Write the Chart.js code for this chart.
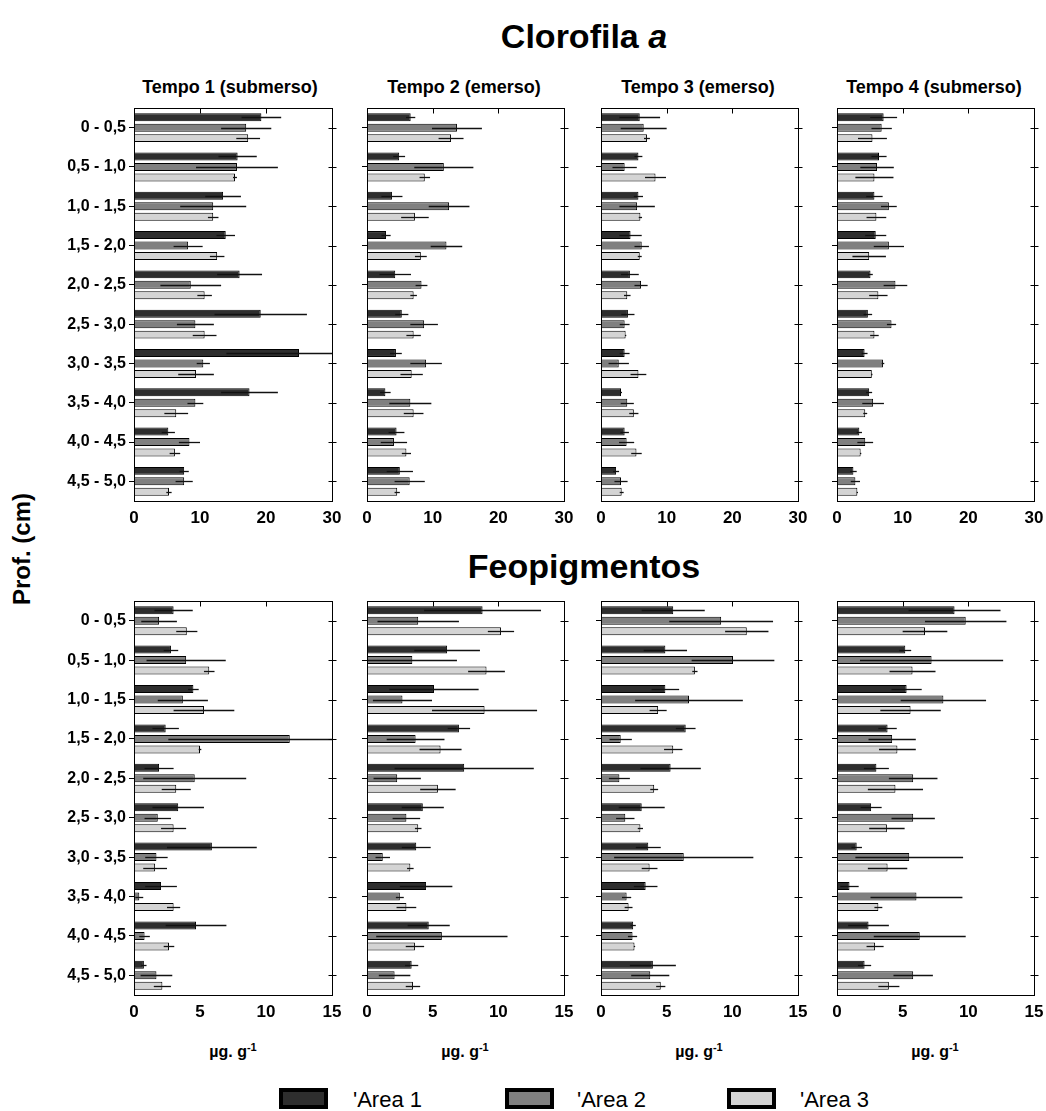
<!DOCTYPE html>
<html>
<head>
<meta charset="utf-8">
<title>Clorofila a e Feopigmentos</title>
<script src="https://cdn.jsdelivr.net/npm/chart.js@4.4.1/dist/chart.umd.min.js"></script>
<style>
    body {
        margin: 0;
        width: 1046px;
        height: 1111px;
        position: relative;
        overflow: hidden;
        background: #fff;
        font-family: 'Liberation Sans', Arial, sans-serif;
        color: #000;
    }
    .lbl {
        position: absolute;
        transform: translate(-50%, -50%);
        white-space: nowrap;
        font-weight: bold;
    }
    .panel {
        position: absolute;
    }
    .leg-box {
        position: absolute;
        width: 49px;
        height: 21px;
        border: 4px solid #000;
        box-sizing: border-box;
    }
    .leg-text {
        position: absolute;
        font-size: 22px;
        transform: translateY(-50%);
        white-space: nowrap;
    }
</style>
</head>
<body>

<div class="lbl" style="left:584px; top:36px; font-size:34px;">Clorofila <i>a</i></div>
<div class="lbl" style="left:584px; top:566px; font-size:34px;">Feopigmentos</div>

<div class="lbl" style="left:230px; top:87px; font-size:18px;">Tempo 1 (submerso)</div>
<div class="lbl" style="left:464px; top:87px; font-size:18px;">Tempo 2 (emerso)</div>
<div class="lbl" style="left:698px; top:87px; font-size:18px;">Tempo 3 (emerso)</div>
<div class="lbl" style="left:934px; top:87px; font-size:18px;">Tempo 4 (submerso)</div>

<div class="lbl" style="left:22px; top:549px; font-size:24px; transform:translate(-50%,-50%) rotate(-90deg);">Prof. (cm)</div>

<div class="lbl" style="left:233px; top:1051px; font-size:16px;">µg. g<sup style="font-size:11px;">-1</sup></div>
<div class="lbl" style="left:465px; top:1051px; font-size:16px;">µg. g<sup style="font-size:11px;">-1</sup></div>
<div class="lbl" style="left:699px; top:1051px; font-size:16px;">µg. g<sup style="font-size:11px;">-1</sup></div>
<div class="lbl" style="left:935px; top:1051px; font-size:16px;">µg. g<sup style="font-size:11px;">-1</sup></div>

<div id="legend"></div>

<canvas id="c-chl-1" class="panel"></canvas>
<canvas id="c-chl-2" class="panel"></canvas>
<canvas id="c-chl-3" class="panel"></canvas>
<canvas id="c-chl-4" class="panel"></canvas>
<canvas id="c-feo-1" class="panel"></canvas>
<canvas id="c-feo-2" class="panel"></canvas>
<canvas id="c-feo-3" class="panel"></canvas>
<canvas id="c-feo-4" class="panel"></canvas>

<script>
// Profundidade (cm)
const categories = ['0 - 0,5', '0,5 - 1,0', '1,0 - 1,5', '1,5 - 2,0', '2,0 - 2,5',
                    '2,5 - 3,0', '3,0 - 3,5', '3,5 - 4,0', '4,0 - 4,5', '4,5 - 5,0'];
const seriesNames = ["'Area 1", "'Area 2", "'Area 3"];
const seriesColors = ['#2e2e2e', '#808080', '#d4d4d4'];

// Eixos x
const chlTicks = [0, 10, 20, 30];
const feoTicks = [0, 5, 10, 15];

// Clorofila a - valores por area [A1, A2, A3] e desvios
const chlT1 = [
    [19.3, 15.7, 13.5, 13.9, 16.0, 19.2, 25.0, 17.5, 5.2, 7.6],
    [17.0, 15.6, 12.0, 8.2, 8.6, 9.3, 10.5, 9.3, 8.4, 7.6],
    [17.3, 15.3, 12.0, 12.6, 10.7, 10.7, 9.4, 6.4, 6.2, 5.3]
];
const chlT1Err = [
    [3.0, 2.9, 2.7, 1.4, 3.4, 7.0, 11.0, 4.3, 1.0, 0.7],
    [3.8, 6.2, 5.0, 2.2, 4.6, 2.8, 1.0, 1.2, 1.6, 1.3],
    [1.8, 0.3, 0.8, 1.1, 1.1, 1.8, 2.7, 1.8, 0.8, 0.4]
];
const chlT2 = [
    [6.65, 4.9, 3.8, 2.9, 4.3, 5.3, 4.4, 2.8, 4.5, 5.0],
    [13.7, 11.7, 12.5, 12.1, 8.3, 8.7, 9.0, 6.6, 4.1, 6.5],
    [12.8, 8.8, 7.3, 8.2, 7.1, 7.1, 6.8, 7.1, 6.0, 4.6]
];
const chlT2Err = [
    [0.7, 0.9, 1.6, 0.7, 2.4, 1.0, 0.9, 0.8, 1.2, 2.0],
    [3.8, 4.5, 3.1, 2.4, 0.9, 2.1, 2.4, 3.2, 2.0, 2.3],
    [1.9, 0.8, 2.1, 0.9, 0.5, 1.1, 1.7, 1.5, 0.7, 0.4]
];
const chlT3 = [
    [5.9, 5.7, 5.7, 4.5, 4.4, 4.1, 3.6, 3.05, 3.6, 2.3],
    [6.5, 3.6, 5.5, 6.2, 6.1, 3.6, 2.7, 4.0, 3.9, 3.05],
    [7.0, 8.3, 6.0, 5.9, 4.0, 3.75, 5.7, 5.0, 5.4, 3.15]
];
const chlT3Err = [
    [3.1, 0.6, 0.7, 1.7, 1.35, 1.0, 0.75, 0.15, 0.65, 0.45],
    [3.5, 1.85, 2.7, 1.1, 1.0, 0.75, 1.55, 1.0, 1.15, 1.0],
    [0.45, 1.6, 0.25, 0.3, 0.5, 0.1, 1.2, 0.7, 0.8, 0.3]
];
const chlT4 = [
    [7.1, 6.4, 5.7, 5.9, 5.1, 4.7, 4.2, 4.9, 3.4, 2.5],
    [6.8, 6.1, 7.9, 7.9, 8.9, 8.3, 7.0, 5.5, 4.3, 2.8],
    [5.4, 5.7, 6.0, 4.9, 6.3, 5.7, 5.3, 4.3, 3.6, 3.1]
];
const chlT4Err = [
    [2.05, 1.15, 1.25, 1.6, 0.35, 0.65, 0.45, 0.45, 0.4, 0.5],
    [1.55, 2.55, 1.2, 2.3, 1.8, 0.7, 0.2, 1.65, 1.2, 0.7],
    [2.2, 2.9, 1.5, 2.55, 1.4, 0.65, 0.1, 0.3, 0.1, 0.1]
];

// Feopigmentos - valores por area [A1, A2, A3] e desvios
const feoT1 = [
    [3.0, 2.8, 4.5, 2.4, 1.9, 3.35, 5.9, 2.05, 4.7, 0.75],
    [1.9, 3.95, 3.7, 11.8, 4.6, 1.8, 1.7, 0.4, 0.8, 1.7],
    [4.0, 5.7, 5.3, 5.0, 3.2, 3.0, 1.6, 3.0, 2.65, 2.15]
];
const feoT1Err = [
    [1.45, 0.55, 0.4, 1.0, 1.1, 1.95, 3.4, 1.2, 2.3, 0.2],
    [1.35, 3.0, 1.9, 9.2, 3.9, 1.0, 0.85, 0.3, 0.4, 1.2],
    [0.8, 0.4, 2.3, 0.1, 1.1, 0.95, 0.9, 0.5, 0.4, 0.65]
];
const feoT2 = [
    [8.8, 6.1, 5.1, 7.0, 7.4, 4.25, 3.75, 4.5, 4.7, 3.4],
    [3.9, 3.45, 2.7, 3.7, 2.3, 3.0, 1.2, 2.5, 5.7, 2.1],
    [10.2, 9.1, 8.95, 5.6, 5.4, 3.9, 3.3, 3.0, 3.65, 3.5]
];
const feoT2Err = [
    [4.45, 2.5, 3.4, 0.85, 5.3, 1.6, 1.1, 2.0, 1.6, 0.5],
    [3.1, 3.4, 2.25, 2.2, 1.8, 1.05, 0.55, 0.3, 5.0, 1.2],
    [1.0, 1.4, 4.0, 1.6, 1.35, 0.25, 0.25, 0.75, 0.7, 0.55]
];
const feoT3 = [
    [5.5, 4.9, 4.9, 6.45, 5.3, 3.1, 3.6, 3.4, 2.45, 3.95],
    [9.15, 10.05, 6.7, 1.5, 1.4, 1.85, 6.3, 1.95, 2.4, 3.75],
    [11.1, 7.15, 4.35, 5.5, 4.05, 3.0, 3.7, 2.1, 2.55, 4.55]
];
const feoT3Err = [
    [2.4, 1.65, 1.05, 0.75, 2.3, 1.75, 0.95, 0.9, 0.2, 1.75],
    [3.95, 3.15, 4.1, 0.85, 0.8, 0.7, 5.3, 0.35, 0.35, 1.45],
    [1.65, 0.2, 0.65, 0.7, 0.3, 0.2, 0.6, 0.3, 0.05, 0.35]
];
const feoT4 = [
    [8.95, 5.2, 5.3, 3.85, 3.0, 2.6, 1.5, 0.95, 2.4, 2.1],
    [9.8, 7.2, 8.1, 4.2, 5.8, 5.8, 5.5, 6.05, 6.3, 5.8],
    [6.7, 5.75, 5.6, 4.6, 4.45, 3.8, 3.85, 3.15, 2.9, 3.95]
];
const feoT4Err = [
    [3.5, 0.45, 1.15, 0.7, 0.95, 0.8, 0.4, 0.7, 1.55, 0.5],
    [3.1, 5.45, 3.25, 1.8, 1.85, 1.65, 4.1, 3.5, 3.5, 1.5],
    [1.7, 1.75, 2.3, 1.4, 2.1, 1.35, 1.5, 0.3, 0.65, 0.8]
];

// Posicao das areas de plotagem
const colLeft = [134, 367, 601, 837];
const colRight = [332, 564, 798, 1034];
const rowTop = [108, 601];
const rowBottom = [501, 995];
const AXIS_W = 110, PAD_T = 6, PAD_R = 16, AXIS_H = 30;

Chart.defaults.font.family = "'Liberation Sans', Arial, sans-serif";
Chart.defaults.color = '#000';

// Barras de erro horizontais
const errorBarsPlugin = {
    id: 'errorBars',
    afterDatasetsDraw(chart) {
        const ctx = chart.ctx;
        const xs = chart.scales.x;
        const area = chart.chartArea;
        ctx.save();
        ctx.beginPath();
        ctx.rect(area.left, area.top - 1, area.right - area.left + 1, area.bottom - area.top + 2);
        ctx.clip();
        ctx.strokeStyle = '#111';
        ctx.lineWidth = 1.3;
        chart.data.datasets.forEach((ds, i) => {
            const meta = chart.getDatasetMeta(i);
            meta.data.forEach((bar, j) => {
                const v = ds.data[j];
                const e = ds.errors[j];
                const x1 = xs.getPixelForValue(Math.max(0, v - e));
                const x2 = xs.getPixelForValue(v + e);
                ctx.beginPath();
                ctx.moveTo(x1, Math.round(bar.y) + 0.5);
                ctx.lineTo(x2, Math.round(bar.y) + 0.5);
                ctx.stroke();
            });
        });
        ctx.restore();
    }
};

// Moldura e marcas de escala (topo e direita)
const framePlugin = {
    id: 'frame',
    afterDraw(chart) {
        const ctx = chart.ctx;
        const a = chart.chartArea;
        const xs = chart.scales.x;
        const ys = chart.scales.y;
        const L = Math.round(a.left) + 0.5, R = Math.round(a.right) + 0.5;
        const T = Math.round(a.top) + 0.5, B = Math.round(a.bottom) + 0.5;
        ctx.save();
        ctx.strokeStyle = '#000';
        ctx.lineWidth = 1;
        ctx.strokeRect(L, T, R - L, B - T);
        ctx.beginPath();
        xs.ticks.forEach((t, i) => {
            if (i === 0 || i === xs.ticks.length - 1) return;
            const x = Math.round(xs.getPixelForValue(t.value)) + 0.5;
            ctx.moveTo(x, T);
            ctx.lineTo(x, T + 5);
        });
        ys.ticks.forEach((t, i) => {
            const y = Math.round(ys.getPixelForTick(i)) + 0.5;
            ctx.moveTo(R - 4, y);
            ctx.lineTo(R + 4, y);
        });
        ctx.stroke();
        ctx.restore();
    }
};

function buildPanel(id, row, col, values, errors, ticks) {
    const canvas = document.getElementById(id);
    const pw = colRight[col] - colLeft[col];
    const ph = rowBottom[row] - rowTop[row];
    canvas.width = AXIS_W + pw + PAD_R;
    canvas.height = PAD_T + ph + AXIS_H;
    canvas.style.left = (colLeft[col] - AXIS_W) + 'px';
    canvas.style.top = (rowTop[row] - PAD_T) + 'px';

    return new Chart(canvas.getContext('2d'), {
        type: 'bar',
        data: {
            labels: categories,
            datasets: values.map((vals, k) => ({
                label: seriesNames[k],
                data: vals,
                errors: errors[k],
                backgroundColor: seriesColors[k],
                borderColor: '#000',
                borderWidth: 1,
                categoryPercentage: 0.8,
                barPercentage: 0.76
            }))
        },
        options: {
            indexAxis: 'y',
            responsive: false,
            animation: false,
            devicePixelRatio: 1,
            layout: { padding: { top: PAD_T, right: PAD_R, left: 0, bottom: 0 } },
            plugins: {
                legend: { display: false },
                tooltip: { enabled: false }
            },
            scales: {
                x: {
                    type: 'linear',
                    min: ticks[0],
                    max: ticks[ticks.length - 1],
                    ticks: {
                        stepSize: ticks[1] - ticks[0],
                        color: '#000',
                        padding: 7,
                        maxRotation: 0,
                        font: { size: 17, weight: 'bold' }
                    },
                    grid: { display: false, drawTicks: false },
                    border: { display: true, color: '#000' },
                    afterFit(scale) {
                        scale.height = AXIS_H;
                        scale.paddingLeft = 0;
                        scale.paddingRight = 0;
                    }
                },
                y: {
                    type: 'category',
                    ticks: {
                        display: col === 0,
                        autoSkip: false,
                        color: '#000',
                        padding: 3,
                        font: { size: 16, weight: 'bold' }
                    },
                    grid: {
                        display: true,
                        offset: false,
                        drawOnChartArea: false,
                        drawTicks: true,
                        tickLength: 5,
                        color: '#000'
                    },
                    border: { display: true, color: '#000' },
                    afterFit(scale) {
                        scale.width = AXIS_W;
                        scale.paddingTop = 0;
                        scale.paddingBottom = 0;
                    }
                }
            }
        },
        plugins: [errorBarsPlugin, framePlugin]
    });
}

// Legenda
function buildLegend() {
    const boxX = [279, 505, 727];
    const textX = [353, 577, 800];
    const holder = document.getElementById('legend');
    seriesNames.forEach((name, k) => {
        const box = document.createElement('div');
        box.className = 'leg-box';
        box.style.left = boxX[k] + 'px';
        box.style.top = '1088px';
        box.style.background = seriesColors[k];
        holder.appendChild(box);
        const txt = document.createElement('div');
        txt.className = 'leg-text';
        txt.style.left = textX[k] + 'px';
        txt.style.top = '1100px';
        txt.textContent = name;
        holder.appendChild(txt);
    });
}

document.addEventListener('DOMContentLoaded', function() {
    buildPanel('c-chl-1', 0, 0, chlT1, chlT1Err, chlTicks);
    buildPanel('c-chl-2', 0, 1, chlT2, chlT2Err, chlTicks);
    buildPanel('c-chl-3', 0, 2, chlT3, chlT3Err, chlTicks);
    buildPanel('c-chl-4', 0, 3, chlT4, chlT4Err, chlTicks);
    buildPanel('c-feo-1', 1, 0, feoT1, feoT1Err, feoTicks);
    buildPanel('c-feo-2', 1, 1, feoT2, feoT2Err, feoTicks);
    buildPanel('c-feo-3', 1, 2, feoT3, feoT3Err, feoTicks);
    buildPanel('c-feo-4', 1, 3, feoT4, feoT4Err, feoTicks);
    buildLegend();
});
</script>
</body>
</html>
